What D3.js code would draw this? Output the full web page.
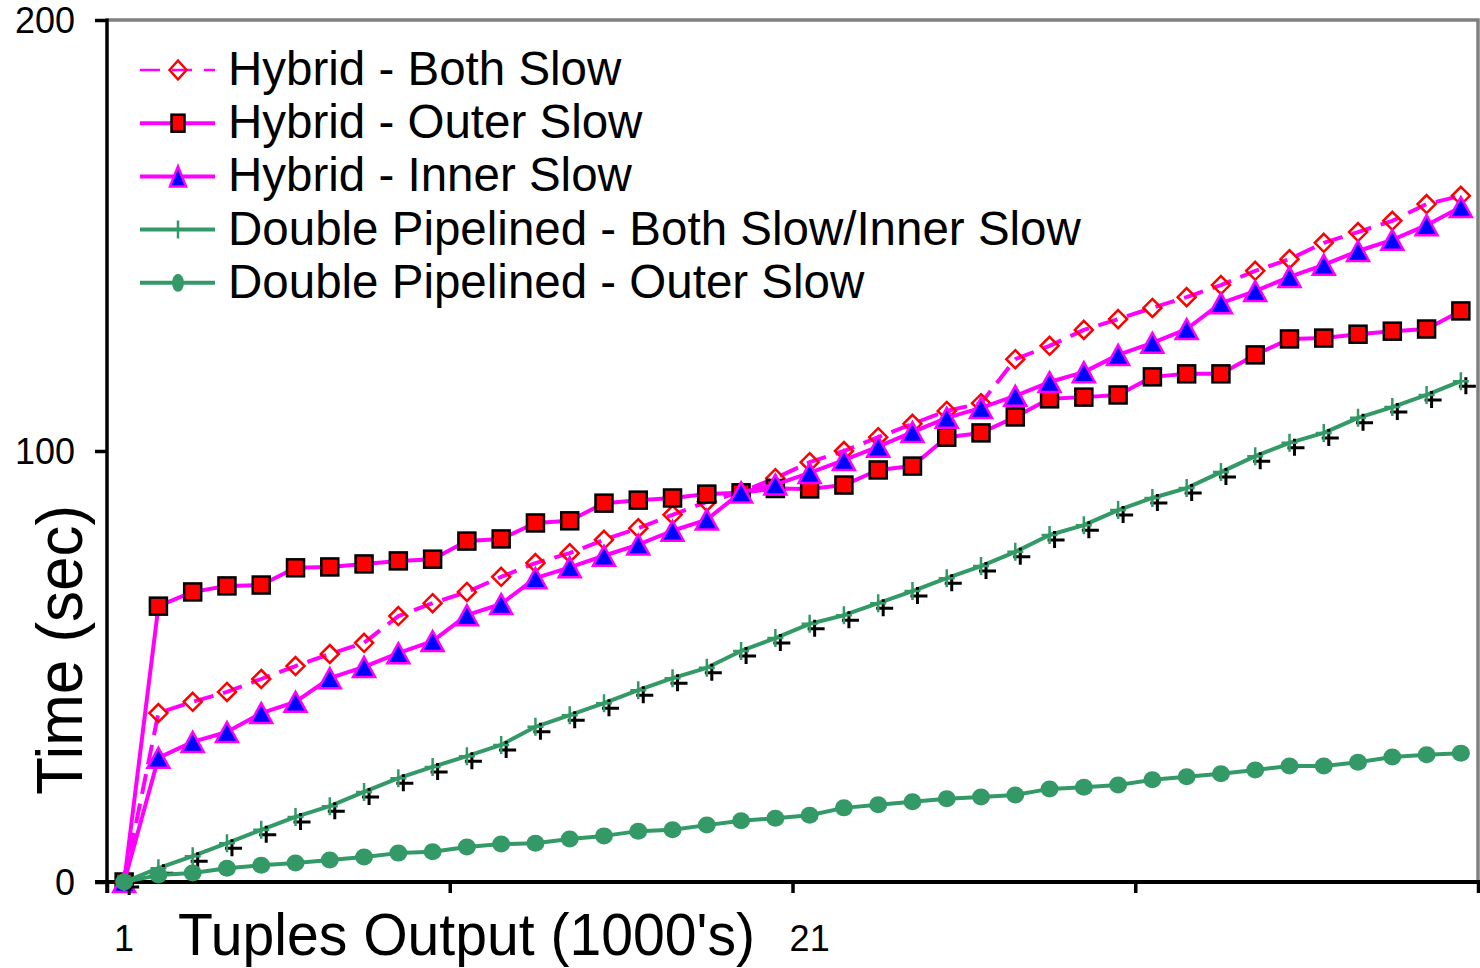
<!DOCTYPE html>
<html>
<head>
<meta charset="utf-8">
<script src="https://cdn.jsdelivr.net/npm/d3@7"></script>
<style>
  body { margin: 0; background: #fff; }
  svg { display: block; font-family: "Liberation Sans", Arial, sans-serif; }
  svg text { font-family: "Liberation Sans", Arial, sans-serif; }
</style>
</head>
<body>
<div id="chart"></div>
<script>
// tuples output, in thousands (category axis)
const categories = [1, 2, 3, 4, 5, 6, 7, 8, 9, 10, 11, 12, 13, 14, 15, 16, 17, 18, 19, 20,
  21, 22, 23, 24, 25, 26, 27, 28, 29, 30, 31, 32, 33, 34, 35, 36, 37, 38, 39, 40]
const xLabels = [1, 21]
const yTicks = [0, 100, 200]

// time in seconds
const hybridBoth = [0, 39.2, 41.8, 44.1, 47.1, 50.1, 52.9, 55.5, 61.7, 64.7, 67.3, 70.8, 74.0, 76.3, 79.4,
  82.1, 85.2, 88.2, 90.5, 93.7, 97.4, 100.0, 103.2, 106.3, 109.3, 111.1, 121.3, 124.4, 128.1, 130.6,
  133.2, 135.7, 138.5, 141.8, 144.5, 148.3, 150.8, 153.4, 157.3, 159.2]
const hybridOuter = [0, 64.0, 67.3, 68.7, 68.9, 72.9, 73.1, 73.8, 74.5, 74.9, 79.1, 79.6, 83.3, 83.8, 87.9,
  88.6, 89.1, 90.0, 90.3, 91.3, 91.2, 92.1, 95.6, 96.5, 103.2, 104.2, 107.9, 112.1, 112.5, 113.0,
  117.2, 117.9, 117.9, 122.3, 126.0, 126.2, 127.1, 127.8, 128.3, 132.5]
const hybridInner = [0, 28.8, 32.5, 34.8, 39.2, 41.8, 47.3, 49.9, 53.1, 55.9, 61.9, 64.5, 70.5, 73.0, 75.7,
  78.3, 81.5, 84.1, 90.4, 92.2, 94.9, 97.9, 101.0, 104.4, 107.7, 110.0, 112.8, 116.0, 118.3, 122.3,
  125.1, 128.3, 134.3, 137.1, 140.4, 143.2, 146.4, 149.0, 152.4, 156.6]
const dpBoth = [0, 3.2, 6.0, 9.0, 12.1, 15.1, 17.6, 20.9, 24.1, 26.7, 29.2, 31.8, 36.0, 38.7, 41.5,
  44.5, 47.3, 49.7, 53.6, 56.6, 59.9, 61.9, 64.7, 67.5, 70.5, 73.3, 76.6, 80.5, 82.8, 86.3,
  89.1, 91.4, 95.1, 98.8, 101.9, 104.2, 107.7, 110.2, 113.0, 116.2]
const dpOuter = [0, 1.6, 2.1, 3.2, 3.9, 4.4, 5.1, 5.8, 6.7, 7.0, 8.1, 8.8, 9.0, 10.0, 10.7,
  11.8, 12.1, 13.2, 14.2, 14.8, 15.5, 17.2, 17.9, 18.6, 19.3, 19.7, 20.2, 21.6, 22.0, 22.5,
  23.7, 24.4, 25.1, 26.0, 26.9, 26.9, 27.8, 29.0, 29.5, 29.9]

const seriesNames = [
  "Hybrid - Both Slow",
  "Hybrid - Outer Slow",
  "Hybrid - Inner Slow",
  "Double Pipelined - Both Slow/Inner Slow",
  "Double Pipelined - Outer Slow"
]

const MAGENTA = "#ff00ff"
const GREEN = "#339966"
const FONT = '"Liberation Sans", Arial, sans-serif'

const series = [
  { name: seriesNames[0], values: hybridBoth, color: MAGENTA, width: 4, dash: "20,10", marker: "diamond" },
  { name: seriesNames[1], values: hybridOuter, color: MAGENTA, width: 4, dash: null, marker: "square" },
  { name: seriesNames[2], values: hybridInner, color: MAGENTA, width: 4, dash: null, marker: "triangle" },
  { name: seriesNames[3], values: dpBoth, color: GREEN, width: 4, dash: null, marker: "plus" },
  { name: seriesNames[4], values: dpOuter, color: GREEN, width: 4, dash: null, marker: "circle" }
]

const W = 1480, H = 968
const plot = { left: 107, right: 1478, top: 20, bottom: 882 }

const svg = d3.select("#chart").append("svg")
  .attr("width", W)
  .attr("height", H)

const x = d3.scaleBand()
  .domain(categories)
  .range([plot.left, plot.right])
const xc = d => x(d) + x.bandwidth() / 2

// boundaries between categories, for the tick marks
const xEdges = d3.scaleLinear()
  .domain([0, categories.length])
  .range([plot.left, plot.right])

const y = d3.scaleLinear()
  .domain([0, 200])
  .range([plot.bottom, plot.top])

// plot area frame (grey, top and right)
svg.append("path")
  .attr("d", `M${plot.left},${plot.top}H${plot.right}V${plot.bottom}`)
  .attr("fill", "none")
  .attr("stroke", "#808080")
  .attr("stroke-width", 3.5)

// y axis
const yAxis = svg.append("g")
  .attr("transform", `translate(${plot.left},0)`)
  .call(d3.axisLeft(y).tickValues(yTicks).tickSize(12).tickPadding(20).tickSizeOuter(0))
yAxis.attr("font-family", FONT)
yAxis.select(".domain").remove()
yAxis.selectAll("line").attr("stroke", "#000").attr("stroke-width", 3.5)
yAxis.selectAll("text")
  .attr("font-size", 36)
  .attr("fill", "#000")
  .attr("dy", "0.36em")
svg.append("line")
  .attr("x1", plot.left).attr("x2", plot.left)
  .attr("y1", plot.top - 1.5).attr("y2", plot.bottom + 11)
  .attr("stroke", "#000").attr("stroke-width", 3.5)

// x axis ticks at category boundaries
const xAxis = svg.append("g")
  .attr("transform", `translate(0,${plot.bottom})`)
  .call(d3.axisBottom(xEdges).tickValues([0, 10, 20, 30, 40]).tickFormat("").tickSize(11).tickSizeOuter(0))
xAxis.select(".domain").remove()
xAxis.selectAll("line").attr("stroke", "#000").attr("stroke-width", 3.5)

// x labels at category centres
const xLab = svg.append("g")
  .attr("transform", `translate(0,${plot.bottom})`)
  .call(d3.axisBottom(x).tickValues(xLabels).tickSize(0).tickPadding(0))
xLab.attr("font-family", FONT)
xLab.select(".domain").remove()
xLab.selectAll("text")
  .attr("font-size", 36)
  .attr("fill", "#000")
  .attr("y", 69)
  .attr("dy", 0)

svg.append("line")
  .attr("x1", plot.left - 12).attr("x2", W)
  .attr("y1", plot.bottom).attr("y2", plot.bottom)
  .attr("stroke", "#000").attr("stroke-width", 4)

// axis titles
svg.append("text")
  .attr("x", 178).attr("y", 955)
  .attr("font-size", 60)
  .attr("textLength", 577)
  .attr("lengthAdjust", "spacingAndGlyphs")
  .text("Tuples Output (1000's)")

svg.append("text")
  .attr("transform", "translate(82,650) rotate(-90)")
  .attr("text-anchor", "middle")
  .attr("font-size", 64)
  .attr("textLength", 290)
  .attr("lengthAdjust", "spacingAndGlyphs")
  .text("Time (sec)")

function drawMarker(g, type, cx, cy, legend) {
  if (type === "diamond") {
    const hw = legend ? 8.5 : 9, hh = legend ? 9.5 : 9
    g.append("path")
      .attr("d", `M${cx},${cy - hh}L${cx + hw},${cy}L${cx},${cy + hh}L${cx - hw},${cy}Z`)
      .attr("fill", "none").attr("stroke", "#ff0000").attr("stroke-width", 2.5)
  } else if (type === "square") {
    const w = legend ? 13 : 17, h = 17
    g.append("rect")
      .attr("x", cx - w / 2).attr("y", cy - h / 2)
      .attr("width", w).attr("height", h)
      .attr("fill", "#ff0000").attr("stroke", "#000").attr("stroke-width", 2.5)
  } else if (type === "triangle") {
    const hw = legend ? 8 : 11, hh = 10
    g.append("path")
      .attr("d", `M${cx},${cy - hh}L${cx + hw},${cy + hh}L${cx - hw},${cy + hh}Z`)
      .attr("fill", "#0000ff").attr("stroke", MAGENTA).attr("stroke-width", 2.5)
  } else if (type === "plus") {
    if (!legend) {
      g.append("path")
        .attr("d", `M${cx + 5},${cy - 4}V${cy + 13}M${cx - 2},${cy + 5}H${cx + 15}`)
        .attr("stroke", "#000").attr("stroke-width", 3).attr("fill", "none")
    }
    g.append("path")
      .attr("d", `M${cx},${cy - 9}V${cy + 9}M${cx - 8},${cy}H${cx + 8}`)
      .attr("stroke", GREEN).attr("stroke-width", 2.5).attr("fill", "none")
  } else if (type === "circle") {
    g.append("ellipse")
      .attr("cx", cx).attr("cy", cy)
      .attr("rx", legend ? 6 : 9).attr("ry", legend ? 9 : 8.5)
      .attr("fill", GREEN)
  }
}

const line = d3.line()
  .x((d, i) => xc(categories[i]))
  .y(d => y(d))

series.forEach(s => {
  const g = svg.append("g").attr("class", "series")
  g.append("path")
    .attr("d", line(s.values))
    .attr("fill", "none")
    .attr("stroke", s.color)
    .attr("stroke-width", s.width)
    .attr("stroke-dasharray", s.dash)
    .attr("stroke-linejoin", "round")
  s.values.forEach((v, i) => drawMarker(g, s.marker, xc(categories[i]), y(v), false))
})

// legend
const legend = svg.append("g").attr("class", "legend")
series.forEach((s, i) => {
  const ly = 70 + i * 53.2
  legend.append("line")
    .attr("x1", 140).attr("x2", 215)
    .attr("y1", ly).attr("y2", ly)
    .attr("stroke", s.color)
    .attr("stroke-width", i === 0 ? 2.5 : 4)
    .attr("stroke-dasharray", s.dash ? "20,12" : null)
  drawMarker(legend, s.marker, 178, ly, true)
  legend.append("text")
    .attr("x", 228).attr("y", ly + 15)
    .attr("font-size", 47.5)
    .attr("fill", "#000")
    .text(s.name)
})
</script>
</body>
</html>
